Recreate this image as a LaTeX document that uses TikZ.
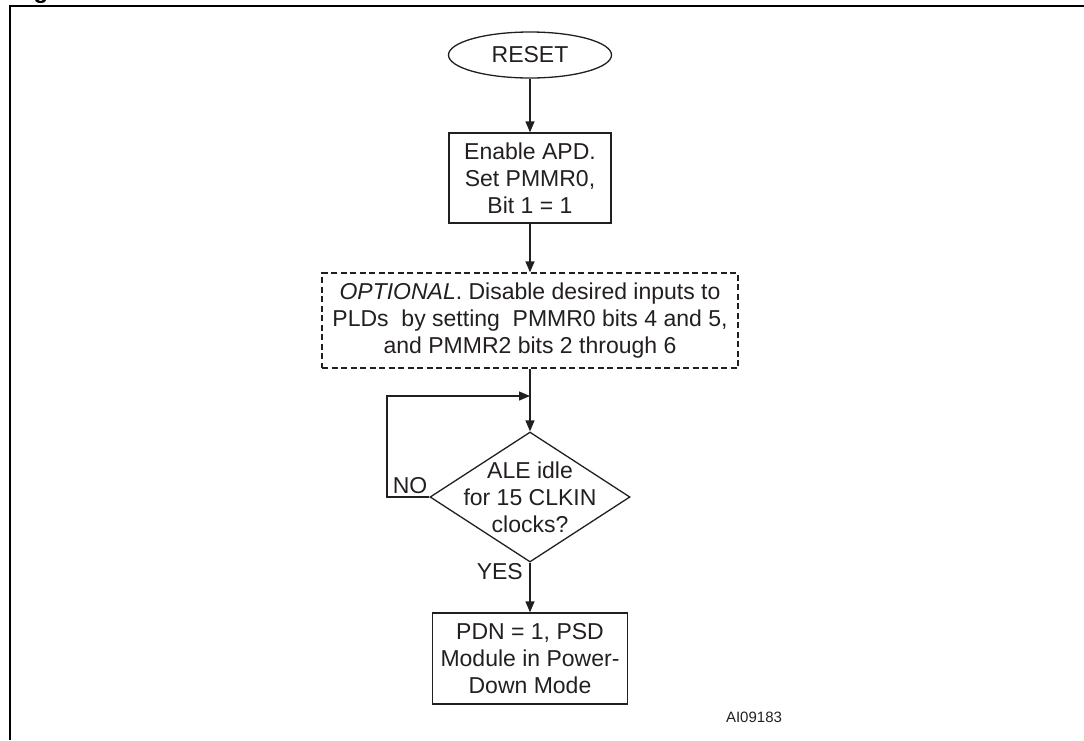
\documentclass[tikz,border=0pt]{standalone}
\usepackage{fontspec}
\setmainfont{Liberation Sans}
\usetikzlibrary{shapes.geometric,arrows.meta}
\definecolor{ink}{HTML}{231F20}
\begin{document}
\begin{tikzpicture}[x=1pt,y=-1pt,
  txt/.style={font=\fontsize{23}{27}\selectfont, text=ink, align=center, inner sep=0pt},
  stepbox/.style={draw=ink, line width=1.3pt, rectangle, inner sep=0pt, txt},
  optbox/.style={stepbox, dash pattern=on 6pt off 3.5pt},
  flow/.style={draw=ink, line width=1.3pt, -{Triangle[length=11pt,width=9pt]}},
  plain/.style={draw=ink, line width=1.3pt}]
\useasboundingbox (0,0) rectangle (1084,740);
% cut-off caption fragment and frame
\begin{scope}
\clip (0,0) rectangle (1084,740);
\node[anchor=base, inner sep=0pt, font=\bfseries\fontsize{24}{28}\selectfont] (caption) at (41,-2) {g};
\end{scope}
\draw[line width=2.6pt, black] (10,740) -- (10,6) -- (1084,6);
% nodes
\node[draw=ink, line width=1.3pt, ellipse, minimum width=163pt, minimum height=46pt, inner sep=0pt, txt] (reset) at (530,55) {RESET};
\node[stepbox, minimum width=162pt, minimum height=90pt] (apd) at (530,178) {Enable APD.\\Set PMMR0,\\Bit 1 = 1};
\node[optbox, minimum width=416pt, minimum height=95pt] (opt) at (530,320.5) {\textit{OPTIONAL}. Disable desired inputs to\\PLDs\ \ by setting\ \ PMMR0 bits 4 and 5,\\and PMMR2 bits 2 through 6};
\node[draw=ink, line width=1.3pt, diamond, minimum width=200pt, minimum height=130pt, inner sep=0pt] (ale) at (530,497) {};
\node[txt] (aletext) at (ale.center) {ALE idle\\for 15 CLKIN\\clocks?};
\node[stepbox, minimum width=195pt, minimum height=91pt] (pdn) at (530,658.5) {PDN = 1, PSD\\Module in Power-\\Down Mode};
\coordinate (join) at (530,396);
\coordinate (loopbl) at (387,497);
\coordinate (looptl) at (387,396);
% connectors
\draw[flow] (reset) -- (apd);
\draw[flow] (apd) -- (opt);
\draw[plain] (opt.south) -- (join);
\draw[flow] (join) -- (ale.north);
\draw[flow] (ale.west) -- (loopbl) -- (looptl) -- (join);
\draw[flow] (ale.south) -- (pdn.north);
% labels
\node[txt, anchor=south] (no) at (410,494) {NO};
\node[txt, anchor=north east] (yes) at (523,563) {YES};
\node[txt, font=\fontsize{15}{18}\selectfont] (fig) at (754,717) {AI09183};
\end{tikzpicture}
\end{document}
